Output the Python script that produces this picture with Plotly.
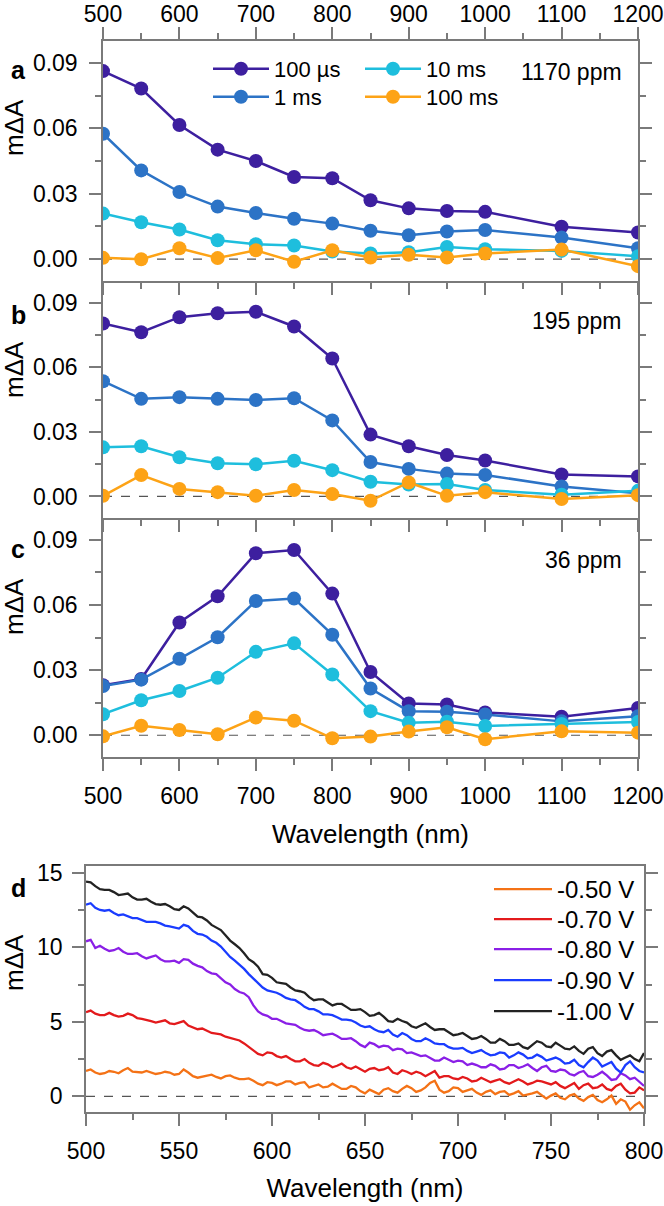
import plotly.graph_objects as go

# ---------------- data: panels a-c ----------------
wl_abc = [500, 550, 600, 650, 700, 750, 800, 850, 900, 950, 1000, 1100, 1200]

a_100us = [0.0862, 0.0782, 0.0615, 0.0502, 0.0450, 0.0377, 0.0371, 0.0270, 0.0233, 0.0221, 0.0217, 0.0149, 0.0122]
a_1ms   = [0.0575, 0.0407, 0.0308, 0.0241, 0.0212, 0.0185, 0.0163, 0.0130, 0.0110, 0.0127, 0.0134, 0.0099, 0.0050]
a_10ms  = [0.0209, 0.0169, 0.0136, 0.0087, 0.0069, 0.0063, 0.0035, 0.0026, 0.0032, 0.0056, 0.0046, 0.0038, 0.0014]
a_100ms = [0.0006, 0.0000, 0.0050, 0.0005, 0.0041, -0.0012, 0.0041, 0.0008, 0.0020, 0.0008, 0.0026, 0.0044, -0.0032]

b_100us = [0.0803, 0.0762, 0.0832, 0.0850, 0.0857, 0.0789, 0.0640, 0.0287, 0.0233, 0.0192, 0.0167, 0.0102, 0.0093]
b_1ms   = [0.0535, 0.0453, 0.0461, 0.0453, 0.0448, 0.0456, 0.0353, 0.0160, 0.0128, 0.0106, 0.0100, 0.0046, 0.0015]
b_10ms  = [0.0228, 0.0233, 0.0182, 0.0154, 0.0149, 0.0166, 0.0122, 0.0068, 0.0055, 0.0058, 0.0030, 0.0008, 0.0026]
b_100ms = [0.0003, 0.0099, 0.0035, 0.0020, 0.0003, 0.0030, 0.0011, -0.0020, 0.0065, 0.0003, 0.0020, -0.0012, 0.0006]

c_100us = [0.0230, 0.0259, 0.0519, 0.0640, 0.0838, 0.0853, 0.0652, 0.0291, 0.0146, 0.0142, 0.0105, 0.0085, 0.0126]
c_1ms   = [0.0227, 0.0256, 0.0352, 0.0451, 0.0618, 0.0629, 0.0463, 0.0215, 0.0111, 0.0108, 0.0096, 0.0064, 0.0088]
c_10ms  = [0.0097, 0.0161, 0.0204, 0.0265, 0.0384, 0.0423, 0.0280, 0.0111, 0.0058, 0.0062, 0.0043, 0.0052, 0.0061]
c_100ms = [-0.0005, 0.0044, 0.0024, 0.0005, 0.0082, 0.0067, -0.0014, -0.0006, 0.0017, 0.0037, -0.0018, 0.0018, 0.0012]

series_names = ["100 µs", "1 ms", "10 ms", "100 ms"]
ppm_labels = ["1170 ppm", "195 ppm", "36 ppm"]

# ---------------- data: panel d (read every 5 nm, plus the in-between readings) ----------------
wl_d = [500, 505, 510, 515, 520, 525, 530, 535, 540, 545, 550, 555, 560, 565, 570, 575, 580, 585, 590, 595,
        600, 605, 610, 615, 620, 625, 630, 635, 640, 645, 650, 655, 660, 665, 670, 675, 680, 685, 690, 695,
        700, 705, 710, 715, 720, 725, 730, 735, 740, 745, 750, 755, 760, 765, 770, 775, 780, 785, 790, 795, 800]
wl_d_mid = [502.5, 507.5, 512.5, 517.5, 522.5, 527.5, 532.5, 537.5, 542.5, 547.5, 552.5, 557.5, 562.5, 567.5, 572.5,
            577.5, 582.5, 587.5, 592.5, 597.5, 602.5, 607.5, 612.5, 617.5, 622.5, 627.5, 632.5, 637.5, 642.5, 647.5,
            652.5, 657.5, 662.5, 667.5, 672.5, 677.5, 682.5, 687.5, 692.5, 697.5, 702.5, 707.5, 712.5, 717.5, 722.5,
            727.5, 732.5, 737.5, 742.5, 747.5, 752.5, 757.5, 762.5, 767.5, 772.5, 777.5, 782.5, 787.5, 792.5, 797.5]

d_050 = [1.70, 1.60, 1.55, 1.65, 1.75, 1.65, 1.60, 1.60, 1.55, 1.60, 1.50, 1.60, 1.25, 1.35, 1.30, 1.35, 1.25, 1.15, 1.05, 0.75,
         0.90, 0.85, 1.00, 0.90, 0.60, 0.80, 0.65, 0.70, 0.50, 0.60, 0.20, 0.30, 0.45, 0.35, 0.50, 0.55, 0.40, 0.90, 0.45, 0.35,
         0.55, 0.40, 0.25, 0.30, 0.15, 0.35, 0.20, 0.05, 0.20, 0.10, 0.05, -0.10, 0.05, -0.15, -0.05, -0.25, -0.20, -0.50, -0.35, -0.60, -0.80]
d_050_mid = [1.80, 1.50, 1.70, 1.55, 1.90, 1.60, 1.70, 1.50, 1.65, 1.45, 1.80, 1.35, 1.30, 1.45, 1.20, 1.40, 1.15, 1.20, 0.85, 0.95,
             0.75, 1.00, 0.80, 0.95, 0.70, 0.60, 0.85, 0.50, 0.70, 0.35, 0.45, 0.15, 0.55, 0.25, 0.70, 0.30, 0.60, 1.05, 0.25, 0.60,
             0.30, 0.50, 0.10, 0.40, 0.30, 0.10, 0.35, 0.10, 0.30, -0.15, 0.20, -0.20, 0.15, -0.30, 0.10, -0.40, 0.05, -0.20, -0.90, -0.40]

d_070 = [5.65, 5.55, 5.45, 5.45, 5.40, 5.45, 5.20, 5.05, 5.00, 4.90, 4.95, 4.75, 4.50, 4.40, 4.20, 4.00, 3.85, 3.55, 3.10, 2.75,
         2.90, 2.60, 2.50, 2.35, 2.25, 2.05, 2.15, 2.05, 1.95, 2.00, 1.65, 1.90, 1.80, 1.60, 1.75, 1.50, 1.55, 1.50, 1.25, 1.35,
         1.15, 1.20, 1.05, 1.10, 1.05, 0.95, 1.00, 1.00, 0.90, 1.00, 0.80, 0.70, 0.70, 0.50, 0.85, 0.60, 0.50, 0.70, 0.45, 0.25, 0.40]
d_070_mid = [5.75, 5.45, 5.60, 5.35, 5.55, 5.25, 5.15, 4.95, 5.10, 4.85, 5.05, 4.60, 4.55, 4.25, 4.15, 3.90, 3.75, 3.30, 2.85, 2.95,
             2.70, 2.70, 2.35, 2.50, 2.10, 2.25, 1.95, 2.20, 1.85, 1.80, 1.85, 1.75, 1.95, 1.50, 1.65, 1.65, 1.35, 1.70, 1.35, 1.20,
             1.30, 1.00, 1.25, 0.95, 1.15, 0.85, 1.15, 0.80, 1.05, 0.90, 0.95, 0.55, 0.90, 0.75, 0.55, 0.80, 0.40, 0.85, 0.20, 0.60]

d_080 = [10.40, 9.95, 9.90, 9.80, 9.70, 9.55, 9.40, 9.35, 9.20, 9.05, 8.95, 9.15, 8.75, 8.40, 8.20, 7.65, 7.20, 6.90, 6.10, 5.50,
         5.20, 5.05, 4.85, 4.60, 4.40, 4.30, 4.15, 4.05, 3.85, 3.70, 3.30, 3.50, 3.40, 3.10, 3.15, 2.95, 2.70, 2.55, 2.40, 2.45,
         2.40, 2.10, 2.10, 1.95, 2.05, 1.85, 2.10, 2.00, 1.90, 1.95, 1.70, 1.80, 1.50, 1.60, 1.35, 1.45, 1.40, 1.15, 1.40, 1.25, 0.70]
d_080_mid = [10.50, 10.10, 9.75, 9.95, 9.55, 9.60, 9.25, 9.45, 9.05, 9.10, 9.20, 8.90, 8.65, 8.25, 7.95, 7.50, 7.00, 6.65, 5.70, 5.40,
             5.20, 4.90, 4.80, 4.45, 4.45, 4.10, 4.20, 3.85, 3.90, 3.45, 3.60, 3.30, 3.35, 3.20, 2.90, 2.85, 2.75, 2.40, 2.60, 2.30,
             2.35, 2.20, 1.95, 2.15, 1.80, 2.10, 1.90, 2.15, 1.70, 2.05, 1.65, 1.75, 1.40, 1.70, 1.30, 1.65, 1.10, 1.55, 1.15, 0.95]

d_090 = [12.85, 12.65, 12.45, 12.30, 12.20, 11.95, 11.85, 11.70, 11.60, 11.40, 11.25, 11.40, 10.90, 10.70, 10.30, 9.70, 9.10, 8.55, 7.90, 7.30,
         7.05, 6.80, 6.50, 6.25, 5.85, 5.70, 5.50, 5.30, 5.15, 4.95, 4.65, 4.50, 4.30, 4.15, 4.25, 3.85, 3.70, 3.75, 3.50, 3.30,
         3.20, 3.05, 3.00, 2.90, 2.80, 2.90, 2.75, 2.80, 2.60, 2.65, 2.50, 2.45, 2.25, 2.10, 2.30, 2.40, 2.15, 1.85, 2.10, 1.95, 1.60]
d_090_mid = [12.95, 12.50, 12.50, 12.15, 12.10, 11.95, 11.70, 11.70, 11.45, 11.35, 11.50, 11.10, 10.85, 10.45, 10.05, 9.35, 8.85, 8.20, 7.65, 7.10,
             6.95, 6.60, 6.45, 6.00, 5.85, 5.50, 5.45, 5.15, 5.10, 4.75, 4.70, 4.35, 4.45, 4.00, 4.10, 3.70, 3.90, 3.55, 3.50, 3.20,
             3.25, 2.90, 3.10, 2.75, 2.95, 2.60, 2.95, 2.55, 2.80, 2.40, 2.60, 2.20, 2.45, 1.95, 2.60, 2.00, 2.30, 1.60, 2.35, 1.70]

d_100 = [14.40, 14.10, 13.85, 13.70, 13.55, 13.35, 13.20, 13.05, 12.85, 12.75, 12.50, 12.60, 12.05, 11.80, 11.35, 10.80, 10.20, 9.60, 9.00, 8.20,
         7.95, 7.60, 7.30, 7.05, 6.65, 6.50, 6.30, 6.20, 6.00, 5.80, 5.65, 5.45, 5.35, 5.00, 5.05, 4.70, 4.75, 4.65, 4.50, 4.30,
         4.15, 4.05, 3.90, 3.85, 3.60, 3.70, 3.45, 3.30, 3.45, 3.60, 3.30, 3.40, 3.15, 3.05, 3.20, 2.90, 3.00, 2.75, 2.60, 2.50, 2.90]
d_100_mid = [14.35, 13.90, 13.85, 13.50, 13.60, 13.20, 13.25, 12.90, 12.90, 12.55, 12.75, 12.30, 12.00, 11.50, 11.15, 10.45, 9.95, 9.20, 8.70, 8.15,
             7.65, 7.55, 7.10, 6.95, 6.45, 6.50, 6.10, 6.20, 5.80, 5.85, 5.40, 5.60, 5.05, 5.20, 4.95, 4.60, 4.90, 4.45, 4.50, 4.10,
             4.25, 3.85, 4.05, 3.60, 3.85, 3.45, 3.55, 3.20, 3.70, 3.35, 3.60, 3.20, 3.35, 2.85, 3.30, 2.70, 3.10, 2.45, 2.75, 2.35]

d_names = ["-0.50 V", "-0.70 V", "-0.80 V", "-0.90 V", "-1.00 V"]


def interleave(main, mid):
    out = []
    for i, v in enumerate(main):
        out.append(v)
        if i < len(mid):
            out.append(mid[i])
    return out

wl_d_all = interleave(wl_d, wl_d_mid)

# ---------------- styling ----------------
abc_colors = ["#3D1F9F", "#2C73C6", "#1EBEDD", "#FDA316"]
d_colors = ["#F47216", "#E31A1C", "#8A1FE6", "#1A3CFF", "#222222"]
FONT = "Liberation Sans, Arial, sans-serif"
GRAY = "#7a7a7a"
W, H = 664, 1206

def py(px):
    return 1 - px / H

def pxx(px):
    return px / W

fig = go.Figure()

panels = [
    (a_100us, a_1ms, a_10ms, a_100ms),
    (b_100us, b_1ms, b_10ms, b_100ms),
    (c_100us, c_1ms, c_10ms, c_100ms),
]
# one legend per entry so each can be placed like the original
abc_legends = ["legend", "legend2", "legend3", "legend4"]
abc_leg_pos = [(213, 70), (213, 98), (365, 70), (365, 98)]
for pi, vals in enumerate(panels):
    xa = "x" if pi == 0 else f"x{pi+1}"
    ya = "y" if pi == 0 else f"y{pi+1}"
    for si, v in enumerate(vals):
        fig.add_trace(go.Scatter(
            x=wl_abc, y=v, mode="lines+markers", name=series_names[si],
            line=dict(color=abc_colors[si], width=2.5),
            marker=dict(color=abc_colors[si], size=14),
            xaxis=xa, yaxis=ya, showlegend=(pi == 0), legend=abc_legends[si],
        ))

d_legends = ["legend5", "legend6", "legend7", "legend8", "legend9"]
d_leg_pos = [(494, 890), (494, 920), (494, 950), (494, 981), (494, 1012)]
d_series = [(d_050, d_050_mid), (d_070, d_070_mid), (d_080, d_080_mid), (d_090, d_090_mid), (d_100, d_100_mid)]
for si, (v, vm) in enumerate(d_series):
    fig.add_trace(go.Scatter(
        x=wl_d_all, y=interleave(v, vm), mode="lines", name=d_names[si],
        line=dict(color=d_colors[si], width=2.3),
        xaxis="x4", yaxis="y4", legend=d_legends[si],
    ))

tickfont = dict(family=FONT, size=23, color="black")
common = dict(showline=True, linecolor=GRAY, linewidth=1.5, ticks="outside", ticklen=12,
              tickwidth=1.5, tickcolor=GRAY, showgrid=False, zeroline=False, tickfont=tickfont,
              automargin=False, ticklabeloverflow="allow")

xd_abc = [pxx(103), pxx(638)]
ydoms = [[py(281), py(41)], [py(518), py(281)], [py(757), py(518)]]
minor_x = dict(dtick=50, ticks="outside", ticklen=6, tickwidth=1.5, tickcolor=GRAY, showgrid=False)
minor_y = dict(tickvals=[0.015, 0.045, 0.075], ticks="outside", ticklen=6, tickwidth=1.5, tickcolor=GRAY, showgrid=False)

LEG_DX = 5      # offset from legend box left edge to start of symbol line
LEG_DY_A = 22   # offset from legend box top to row centre
LEG_DY_D = 23

layout = dict(
    template="none",
    width=W, height=H, margin=dict(l=0, r=0, t=0, b=0, autoexpand=False),
    paper_bgcolor="white", plot_bgcolor="white",
    font=dict(family=FONT, size=22, color="black"),
    showlegend=True,
    xaxis=dict(domain=xd_abc, anchor="y", range=[500, 1200], tick0=500, dtick=100, side="top",
               mirror="allticks", minor=minor_x, ticklabelstandoff=-4, **common),
    xaxis2=dict(domain=xd_abc, anchor="y2", range=[500, 1200], tick0=500, dtick=100,
                showticklabels=False, mirror=False, minor=minor_x, **common),
    xaxis3=dict(domain=xd_abc, anchor="y3", range=[500, 1200], tick0=500, dtick=100,
                mirror=False, minor=minor_x, ticklabelstandoff=6,
                title=dict(text="Wavelength (nm)", font=dict(family=FONT, size=26), standoff=16), **common),
    xaxis4=dict(domain=[pxx(86), pxx(644)], anchor="y4", range=[500, 800], tick0=500, dtick=50,
                mirror=True, ticklabelstandoff=6,
                minor=dict(dtick=25, ticks="outside", ticklen=6, tickwidth=1.5, tickcolor=GRAY, showgrid=False),
                title=dict(text="Wavelength (nm)", font=dict(family=FONT, size=26), standoff=15), **common),
    xaxis5=dict(domain=[pxx(86), pxx(644)], anchor="y4", overlaying="x4", side="top", range=[500, 800],
                tick0=500, dtick=50, showticklabels=False, showline=False, ticks="inside", ticklen=12,
                tickwidth=1.5, tickcolor=GRAY, showgrid=False, zeroline=False, automargin=False,
                minor=dict(dtick=25, ticks="inside", ticklen=6, tickwidth=1.5, tickcolor=GRAY, showgrid=False)),
    yaxis4=dict(domain=[py(1112), py(866)], anchor="x4", range=[-1.05, 15.45], tickvals=[0, 5, 10, 15],
                mirror="allticks", ticklabelstandoff=5,
                minor=dict(tickvals=[2.5, 7.5, 12.5], ticks="outside", ticklen=6, tickwidth=1.5, tickcolor=GRAY, showgrid=False),
                **common),
)
for i, dom in enumerate(ydoms):
    key = "yaxis" if i == 0 else f"yaxis{i+1}"
    xa = "x" if i == 0 else f"x{i+1}"
    layout[key] = dict(domain=dom, anchor=xa, range=[-0.01, 0.10], tickvals=[0, 0.03, 0.06, 0.09],
                       tickformat=".2f", mirror="allticks", ticklabelstandoff=7, minor=minor_y, **common)

for name, (lx, ly) in zip(abc_legends, abc_leg_pos):
    layout[name] = dict(x=pxx(lx - LEG_DX), y=py(ly - LEG_DY_A), xanchor="left", yanchor="top",
                        orientation="v", font=dict(family=FONT, size=22), bgcolor="rgba(0,0,0,0)",
                        itemwidth=56, borderwidth=0)
for name, (lx, ly) in zip(d_legends, d_leg_pos):
    layout[name] = dict(x=pxx(lx - LEG_DX), y=py(ly - LEG_DY_D), xanchor="left", yanchor="top",
                        orientation="v", font=dict(family=FONT, size=24), bgcolor="rgba(0,0,0,0)",
                        itemwidth=58, borderwidth=0)

fig.update_layout(**layout)

# dashed zero lines
for xa, ya in [("x", "y"), ("x2", "y2"), ("x3", "y3"), ("x4", "y4")]:
    fig.add_shape(type="line", xref=f"{xa} domain", x0=0, x1=1, yref=ya, y0=0, y1=0,
                  line=dict(color="#555555", width=1.2, dash="dash"), layer="below")

# annotations: panel letters, y titles, concentration labels
letters = [("a", 70), ("b", 315), ("c", 549), ("d", 888)]
for t, yp in letters:
    fig.add_annotation(text=f"<b>{t}</b>", x=pxx(18), y=py(yp), xref="paper", yref="paper",
                       showarrow=False, font=dict(family=FONT, size=25, color="black"),
                       xanchor="center", yanchor="middle")
for yp in [128, 370, 607, 963]:
    fig.add_annotation(text="mΔA", x=pxx(14), y=py(yp), xref="paper", yref="paper", textangle=-90,
                       showarrow=False, font=dict(family=FONT, size=26, color="black"),
                       xanchor="center", yanchor="middle")
for t, yp in zip(ppm_labels, [72, 321, 560]):
    fig.add_annotation(text=t, x=pxx(624), y=py(yp), xref="paper", yref="paper",
                       showarrow=False, font=dict(family=FONT, size=23, color="black"),
                       xanchor="right", yanchor="middle")

fig.write_html("out.html", config={"displayModeBar": False},
               post_script="document.body.style.margin='0px';document.body.style.overflow='hidden';")
